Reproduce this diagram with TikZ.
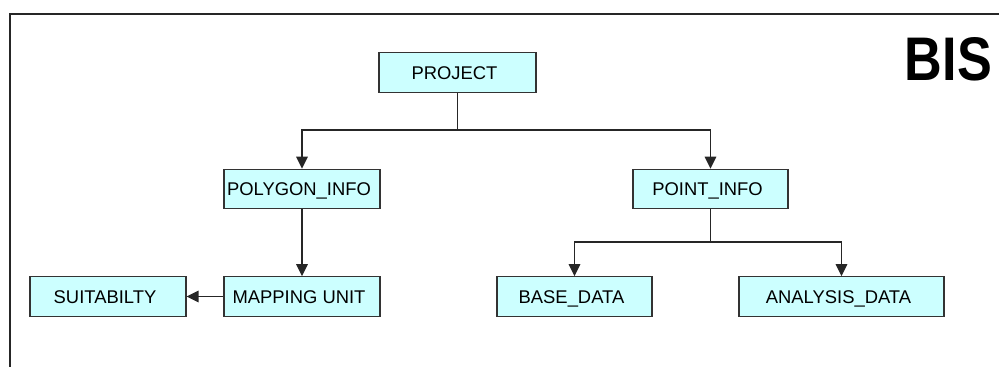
\documentclass[tikz,border=0pt]{standalone}
\usepackage{fontspec}
\setmainfont{Liberation Sans}
\usetikzlibrary{arrows.meta}
\definecolor{boxfill}{HTML}{CCFFFF}
\definecolor{boxline}{HTML}{333333}
\newcommand\boxtxt[1]{#1\hspace*{6pt}}
\tikzset{
  entity/.style={draw=boxline, line width=1.1pt, fill=boxfill, minimum height=39.5pt,
    inner sep=0pt, text height=13.2pt, text depth=0pt,
    font=\fontsize{18.4}{22}\selectfont},
  conn/.style={draw=black!85, line width=1.3pt, -{Triangle[length=12pt,width=11.5pt]}},
  plainconn/.style={draw=black!85, line width=1.3pt},
}
\begin{document}
\begin{tikzpicture}[x=1pt,y=-1pt]
\useasboundingbox (0,0) rectangle (999,367);
\draw[line width=1.5pt, draw=black!85] (999,14) -- (10,14) -- (10,367);
\node[inner sep=0pt] (title) at (948.5,59) {\resizebox{87pt}{43pt}{\bfseries BIS}};
\node[entity, minimum width=157pt] (project) at (457.5,72.5) {\boxtxt{PROJECT}};
\node[entity, minimum width=156pt] (polygon) at (302,189) {\boxtxt{POLYGON\_INFO}};
\node[entity, minimum width=155pt] (point) at (710.5,189) {\boxtxt{POINT\_INFO}};
\node[entity, minimum width=156pt] (mapping) at (302,296.5) {\boxtxt{MAPPING UNIT}};
\node[entity, minimum width=156pt] (suit) at (108,296.5) {\boxtxt{SUITABILTY}};
\node[entity, minimum width=155pt] (base) at (574.5,296.5) {\boxtxt{BASE\_DATA}};
\node[entity, minimum width=205pt] (analysis) at (841.5,296.5) {\boxtxt{ANALYSIS\_DATA}};
\coordinate (j1) at (457.5,130);
\coordinate (j2) at (710.5,242);
\draw[plainconn] (project.south) -- (j1);
\draw[conn] (j1) -| (polygon.north);
\draw[conn] (j1) -| (point.north);
\draw[plainconn] (point.south) -- (j2);
\draw[conn] (j2) -| (base.north);
\draw[conn] (j2) -| (analysis.north);
\draw[conn] (polygon.south) -- (mapping.north);
\draw[conn] (mapping.west) -- (suit.east);
\end{tikzpicture}
\end{document}
